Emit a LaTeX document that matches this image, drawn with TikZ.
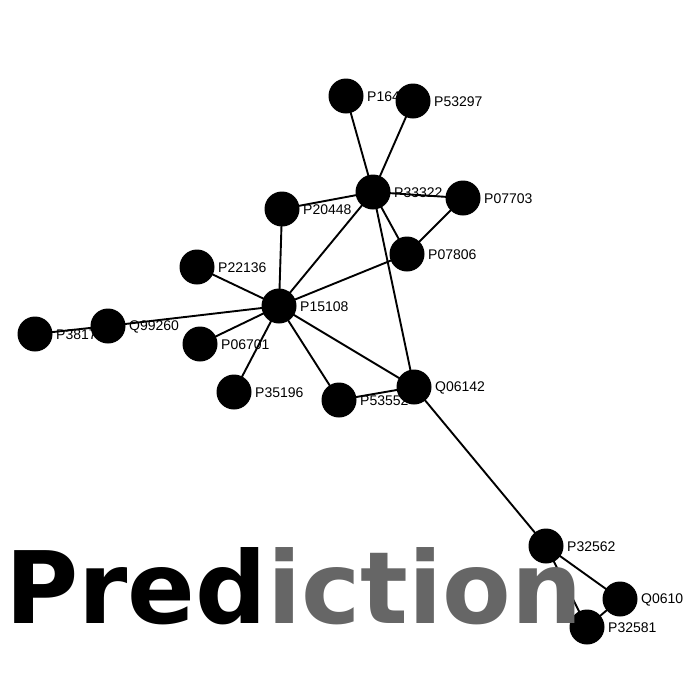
\documentclass[tikz,border=0pt]{standalone}
\usepackage{fontspec}
\setmainfont{Liberation Sans}
\newfontfamily\titlefont{DejaVu Sans}
\usetikzlibrary{calc}
\definecolor{titlegray}{HTML}{666666}
\begin{document}
\begin{tikzpicture}[x=1pt,y=-1pt,
  prot/.style={circle,fill=black,minimum size=35pt,inner sep=0pt},
  lbl/.style={anchor=west,inner sep=0pt,font=\fontsize{14}{14}\selectfont},
  edge/.style={line width=1.9pt,black}]
\useasboundingbox (0,0) rectangle (691,691);
% node coordinates
\coordinate (a) at (346,96);
\coordinate (b) at (413,101);
\coordinate (c) at (373,192);
\coordinate (d) at (463,198);
\coordinate (e) at (282,209);
\coordinate (f) at (407,254);
\coordinate (g) at (197,267);
\coordinate (h) at (279,306);
\coordinate (i) at (108,326);
\coordinate (j) at (35,334);
\coordinate (k) at (200,344);
\coordinate (l) at (234,392);
\coordinate (m) at (339,400);
\coordinate (n) at (414,387);
\coordinate (o) at (546,546);
\coordinate (p) at (620,599);
\coordinate (q) at (587,627);
% labels
\node[lbl] (la) at ($(a)+(21,1)$) {P164};
\node[lbl] (lb) at ($(b)+(21,1)$) {P53297};
\node[lbl] (lc) at ($(c)+(21,1)$) {P33322};
\node[lbl] (ld) at ($(d)+(21,1)$) {P07703};
\node[lbl] (le) at ($(e)+(21,1)$) {P20448};
\node[lbl] (lf) at ($(f)+(21,1)$) {P07806};
\node[lbl] (lg) at ($(g)+(21,1)$) {P22136};
\node[lbl] (lh) at ($(h)+(21,1)$) {P15108};
\node[lbl] (li) at ($(i)+(21,1)$) {Q99260};
\node[lbl] (lj) at ($(j)+(21,1)$) {P3817};
\node[lbl] (lk) at ($(k)+(21,1)$) {P06701};
\node[lbl] (ll) at ($(l)+(21,1)$) {P35196};
\node[lbl] (lm) at ($(m)+(21,1)$) {P53552};
\node[lbl] (ln) at ($(n)+(21,1)$) {Q06142};
\node[lbl] (lo) at ($(o)+(21,1)$) {P32562};
\node[lbl] (lp) at ($(p)+(21,1)$) {Q0610};
\node[lbl] (lq) at ($(q)+(21,1)$) {P32581};
% edges
\foreach \u/\v in {a/c,b/c,c/e,c/d,c/f,c/h,c/n,d/f,f/h,e/h,g/h,i/h,j/i,k/h,l/h,m/h,n/h,m/n,n/o,o/p,o/q,p/q}
  \draw[edge] (\u) -- (\v);
% nodes
\foreach \u in {a,b,c,d,e,f,g,h,i,j,k,l,m,n,o,p,q}
  \node[prot] (N\u) at (\u) {};
% title
\node[anchor=base west,inner sep=0pt,font=\titlefont\bfseries\fontsize{100}{100}\selectfont] (title) at (5,623) {Pred\textcolor{titlegray}{iction}};
\end{tikzpicture}
\end{document}
